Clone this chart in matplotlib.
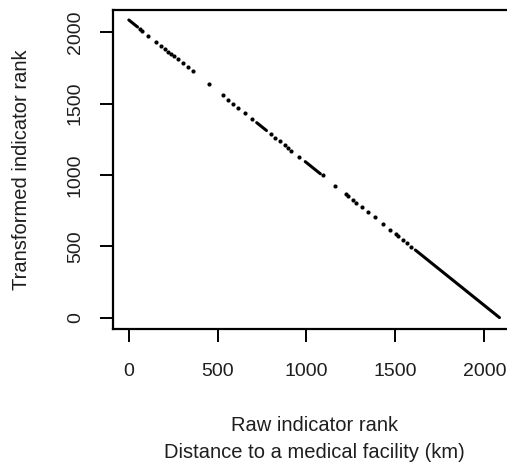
import matplotlib
matplotlib.use("Agg")
import matplotlib.pyplot as plt

plt.rcParams['font.family'] = ['Liberation Sans', 'DejaVu Sans']

# isolated points (raw rank, transformed rank)
dot_x = [62, 76, 110, 152, 180, 207, 222, 238, 255, 276, 303, 331, 360, 452,
         529, 559, 587, 616, 655, 695, 799, 825, 851, 877, 895, 915, 958,
         1090, 1161, 1220, 1236, 1259, 1280, 1312, 1345, 1383, 1430, 1470,
         1502, 1516, 1543, 1565, 1589]
dot_y = [2024, 2010, 1976, 1934, 1906, 1879, 1864, 1848, 1831, 1810, 1783,
         1755, 1726, 1634, 1557, 1527, 1499, 1470, 1431, 1391, 1287, 1261,
         1235, 1209, 1191, 1171, 1128, 996, 925, 866, 850, 827, 806, 774,
         741, 703, 656, 616, 584, 570, 543, 521, 497]

# runs of consecutive ranks (start, end)
run_x = [(1, 50), (720, 775), (993, 1078), (1612, 2085)]
run_y = [(2085, 2036), (1366, 1311), (1093, 1008), (474, 1)]

x_ticks = [0, 500, 1000, 1500, 2000]
y_ticks = [0, 500, 1000, 1500, 2000]

W, H = 507, 469
fig = plt.figure(figsize=(W / 100, H / 100), dpi=100)
ax = fig.add_axes([113 / W, (H - 329) / H, 403 / W, 319 / H])

txt = '#1e1e1e'
for xs, ys in zip(run_x, run_y):
    ax.plot(xs, ys, color='black', lw=2.2, solid_capstyle='round')
ax.scatter(dot_x, dot_y, s=9, color='black', linewidths=0)

ax.set_xlim(-88, 2178)
ax.set_ylim(-79, 2155)
ax.set_xticks(x_ticks)
ax.set_yticks(y_ticks)
for s in ax.spines.values():
    s.set_linewidth(1.6)
ax.tick_params(axis='both', length=9.5, width=1.4, labelsize=14,
               labelcolor=txt)
ax.tick_params(axis='x', pad=15)
ax.tick_params(axis='y', pad=11.5, labelrotation=90)
for lab in ax.get_yticklabels():
    lab.set_va('center')

fig.text(314.5 / W, 1 - 431 / H, 'Raw indicator rank', ha='center',
         va='baseline', fontsize=14.5, color=txt)
fig.text(314.5 / W, 1 - 458 / H, 'Distance to a medical facility (km)',
         ha='center', va='baseline', fontsize=14.5, color=txt)
fig.text(22 / W, 1 - 170 / H, 'Transformed indicator rank', rotation=90,
         ha='center', va='center', fontsize=14.5, color=txt)

fig.savefig('out.png', dpi=100)
